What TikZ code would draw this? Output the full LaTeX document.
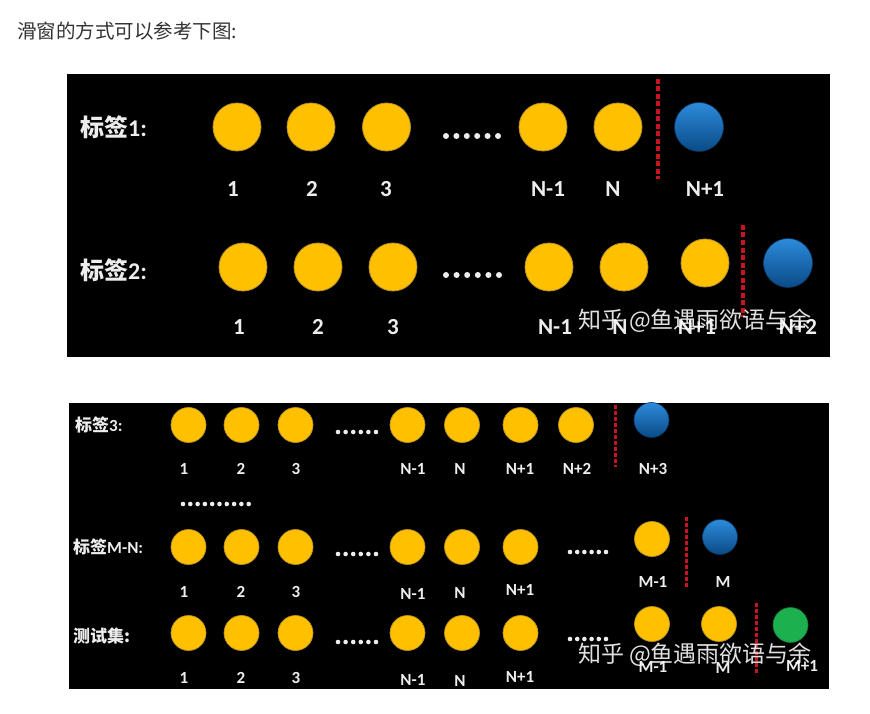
\documentclass[tikz,border=0pt]{standalone}
\usepackage{fontspec}
\setmainfont{Carlito}
\newfontfamily\cjk{Noto Sans CJK SC}
\definecolor{ylw}{HTML}{FFC000}
\definecolor{ylwline}{HTML}{B8902A}
\definecolor{bluA}{HTML}{2C8BDB}
\definecolor{bluB}{HTML}{0A4A86}
\definecolor{grn}{HTML}{1DB04E}
\definecolor{dred}{HTML}{C8141E}
\definecolor{lbl}{HTML}{EDEDED}
\definecolor{ttl}{HTML}{333333}
\tikzset{
  ballA/.style={circle, draw=ylwline, line width=0.8pt, fill=ylw, inner sep=0pt, minimum size=48pt},
  ballB/.style={circle, draw=ylwline, line width=0.7pt, fill=ylw, inner sep=0pt, minimum size=35pt},
  blueA/.style={circle, draw=bluB!70!black, line width=0.6pt, top color=bluA, bottom color=bluB, inner sep=0pt, minimum size=49pt},
  blueB/.style={circle, draw=bluB!70!black, line width=0.6pt, top color=bluA, bottom color=bluB, inner sep=0pt, minimum size=35pt},
  greenB/.style={circle, draw=grn!70!black, line width=0.6pt, fill=grn, inner sep=0pt, minimum size=35pt},
  numA/.style={text=lbl, font=\bfseries\fontsize{23}{23}\selectfont, inner sep=0pt},
  numB/.style={text=lbl, font=\bfseries\fontsize{17}{17}\selectfont, inner sep=0pt},
  rowA/.style={text=lbl, anchor=west, font=\bfseries\fontsize{24}{24}\selectfont, inner sep=0pt},
  rowB/.style={text=lbl, anchor=west, font=\bfseries\fontsize{17}{17}\selectfont, inner sep=0pt},
  cut/.style={draw=dred, line width=3.4pt, dash pattern=on 5pt off 2.5pt},
  cutB/.style={draw=dred, line width=3pt, dash pattern=on 4pt off 2pt},
  wmark/.style={text=white, opacity=0.88, font=\cjk\fontsize{23}{23}\selectfont, inner sep=0pt},
  dotw/.style={fill=lbl}
}
\begin{document}
\begin{tikzpicture}[x=1pt,y=-1pt]
\useasboundingbox (0,0) rectangle (870,714);
\fill[white] (0,0) rectangle (870,714);
\node[anchor=west, text=ttl, font=\cjk\fontsize{19.5}{19.5}\selectfont, inner sep=0pt] (title) at (17,31) {滑窗的方式可以参考下图:};

% ---------- top panel ----------
\fill[black] (67,74) rectangle (830,357);
% row 1
\node[rowA] (r1) at (80,127) {{\cjk\bfseries 标签}1:};
\foreach \x/\n in {237/a1,311/a2,386.5/a3,543/aN1,618/aN}
  \node[ballA] (\n) at (\x,127) {};
\node[blueA] (aN2) at (699,127) {};
\foreach \i in {0,...,5} \fill[dotw] (446+\i*10.4,136) circle (3);
\coordinate (c1t) at (658,79); \coordinate (c1b) at (658,179);
\draw[cut] (c1t) -- (c1b);
\foreach \x/\t/\n in {233/1/la1,312/2/la2,386/3/la3,548/N-1/laN1,613/N/laN,705/N+1/laN2}
  \node[numA] (\n) at (\x,189) {\t};
% row 2
\node[rowA] (r2) at (80,270) {{\cjk\bfseries 标签}2:};
\foreach \x/\n in {243/b1,318/b2,393/b3,549/bN1,624/bN}
  \node[ballA] (\n) at (\x,267) {};
\node[ballA] (bN2) at (705,263) {};
\node[blueA] (bN3) at (788,263) {};
\foreach \i in {0,...,5} \fill[dotw] (446+\i*10.6,275) circle (3);
\coordinate (c2t) at (743,225); \coordinate (c2b) at (743,317);
\draw[cut] (c2t) -- (c2b);
\foreach \x/\t/\n in {239/1/lb1,318/2/lb2,393/3/lb3,555/N-1/lbN1,620/N/lbN,697/N+1/lbN2,798/N+2/lbN3}
  \node[numA] (\n) at (\x,327) {\t};
\node[wmark] (wm1) at (695,321) {知乎 @鱼遇雨欲语与余};

% ---------- bottom panel ----------
\fill[black] (69,403) rectangle (829,689);
% row 3
\node[rowB] (r3) at (75,425) {{\cjk\bfseries 标签}3:};
\foreach \x/\n in {188.5/c1,241.5/c2,295.5/c3,407.5/cN1,462/cN,520.5/cN2,576/cN3}
  \node[ballB] (\n) at (\x,425) {};
\node[blueB] (cN4) at (651.5,420) {};
\foreach \i in {0,...,5} \fill[dotw] (338+\i*7.6,432) circle (2.3);
\coordinate (c3t) at (615,405); \coordinate (c3b) at (615,467);
\draw[cutB] (c3t) -- (c3b);
\foreach \x/\t/\n in {184/1/lc1,241/2/lc2,296/3/lc3,413/N-1/lcN1,460/N/lcN,520/N+1/lcN2,577/N+2/lcN3,653/N+3/lcN4}
  \node[numB] (\n) at (\x,469) {\t};
% vertical ellipsis row
\foreach \i in {0,...,9} \fill[dotw] (183+\i*7.3,504) circle (2.3);
% row M-N
\node[rowB] (r4) at (73,547) {{\cjk\bfseries 标签}M-N:};
\foreach \x/\n in {188.5/d1,241.5/d2,295.5/d3,407.5/dN1,462/dN,520.5/dN2}
  \node[ballB] (\n) at (\x,547) {};
\node[ballB] (dM1) at (652,539) {};
\node[blueB] (dM) at (720,537) {};
\foreach \i in {0,...,5} \fill[dotw] (338+\i*7.6,554) circle (2.3);
\foreach \i in {0,...,5} \fill[dotw] (570+\i*7.2,552) circle (2.3);
\coordinate (c4t) at (686,517); \coordinate (c4b) at (686,588);
\draw[cutB] (c4t) -- (c4b);
\foreach \x/\t/\y/\n in {184/1/592/ld1,241/2/592/ld2,296/3/592/ld3,413/N-1/594/ldN1,460/N/593/ldN,520/N+1/590/ldN2,653/M-1/582/ldM1,723/M/582/ldM}
  \node[numB] (\n) at (\x,\y) {\t};
% test set
\node[rowB] (r5) at (73,636) {\cjk\bfseries 测试集:};
\foreach \x/\n in {188.5/e1,241.5/e2,295.5/e3,407.5/eN1,462/eN,520.5/eN2}
  \node[ballB] (\n) at (\x,633) {};
\node[ballB] (eM1) at (652,624) {};
\node[ballB] (eM) at (719,624) {};
\node[greenB] (eM2) at (790.5,625) {};
\foreach \i in {0,...,5} \fill[dotw] (338+\i*7.6,642) circle (2.3);
\foreach \i in {0,...,5} \fill[dotw] (570+\i*7.2,639) circle (2.3);
\coordinate (c5t) at (756,603); \coordinate (c5b) at (756,675);
\draw[cutB] (c5t) -- (c5b);
\foreach \x/\t/\y/\n in {184/1/678/le1,241/2/678/le2,296/3/678/le3,413/N-1/680/leN1,460/N/681/leN,520/N+1/677/leN2,653/M-1/667/leM1,723/M/668/leM,802/M+1/666/leM2}
  \node[numB] (\n) at (\x,\y) {\t};
\node[wmark] (wm2) at (695,655) {知乎 @鱼遇雨欲语与余};
\end{tikzpicture}
\end{document}
